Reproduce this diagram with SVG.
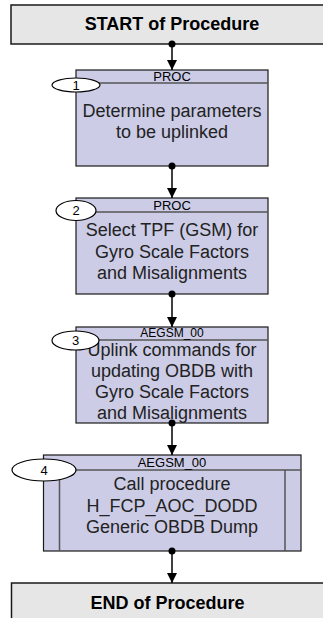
<svg xmlns="http://www.w3.org/2000/svg" width="323" height="618" viewBox="0 0 323 618">
<defs>
<style>
.term{fill:#e6e6e6;stroke:#1a1a1a;stroke-width:1.5}
.proc{fill:#ccccE6;stroke:#1a1a1a;stroke-width:1.2}
.div{stroke:#555;stroke-width:1.5;fill:none}
.oval{fill:#fff;stroke:#000;stroke-width:1.2}
.tt{font-family:"Liberation Sans",Arial,sans-serif;font-weight:bold;font-size:18px;fill:#000;text-anchor:middle}
.bt{font-family:"Liberation Sans",Arial,sans-serif;font-size:18px;fill:#222;text-anchor:middle}
.ht{font-family:"Liberation Sans",Arial,sans-serif;font-size:13px;fill:#000;text-anchor:middle}
.nt{font-family:"Liberation Sans",Arial,sans-serif;font-size:13px;fill:#000;text-anchor:middle}
.ln{stroke:#000;stroke-width:1.5;fill:none}
</style>
<marker id="ah" viewBox="0 0 10 10" refX="10" refY="5" markerWidth="10" markerHeight="10" markerUnits="userSpaceOnUse" orient="auto">
<path d="M0,0 L10,5 L0,10 z" fill="#000"/>
</marker>
</defs>
<g id="start">
<rect class="term" x="11" y="5" width="330" height="39"/>
<text class="tt" x="172" y="30">START of Procedure</text>
</g>
<g id="step1">
<rect class="proc" x="76" y="70" width="192" height="96"/>
<line class="div" x1="76" y1="83" x2="268" y2="83"/>
<text class="ht" x="172" y="81">PROC</text>
<text class="bt" x="172" y="117">Determine parameters</text>
<text class="bt" x="172" y="138">to be uplinked</text>
<ellipse class="oval" cx="76" cy="85" rx="24" ry="7"/>
<text class="nt" x="76" y="90">1</text>
</g>
<g id="step2">
<rect class="proc" x="76" y="198" width="192" height="96"/>
<line class="div" x1="76" y1="212" x2="268" y2="212"/>
<text class="ht" x="172" y="210">PROC</text>
<text class="bt" x="172" y="236">Select TPF (GSM) for</text>
<text class="bt" x="172" y="257.5">Gyro Scale Factors</text>
<text class="bt" x="172" y="279">and Misalignments</text>
<ellipse class="oval" cx="76" cy="210.5" rx="20" ry="10"/>
<text class="nt" x="76" y="215">2</text>
</g>
<g id="step3">
<rect class="proc" x="76" y="327" width="192" height="96"/>
<line class="div" x1="76" y1="340" x2="268" y2="340"/>
<text class="ht" x="172" y="336.5" style="font-size:12px">AEGSM_00</text>
<text class="bt" x="172" y="355.5">Uplink commands for</text>
<text class="bt" x="172" y="376.5">updating OBDB with</text>
<text class="bt" x="172" y="397.5">Gyro Scale Factors</text>
<text class="bt" x="172" y="418.5">and Misalignments</text>
<ellipse class="oval" cx="75.5" cy="340.5" rx="23.5" ry="9.5"/>
<text class="nt" x="75.5" y="345">3</text>
</g>
<g id="step4">
<rect class="proc" x="43.5" y="455" width="257.5" height="96"/>
<line class="div" x1="43.5" y1="470" x2="301" y2="470"/>
<line class="div" x1="59.5" y1="470" x2="59.5" y2="551"/>
<line class="div" x1="285" y1="470" x2="285" y2="551"/>
<text class="ht" x="172" y="467">AEGSM_00</text>
<text class="bt" x="172" y="490">Call procedure</text>
<text class="bt" x="172" y="511.5">H_FCP_AOC_DODD</text>
<text class="bt" x="172" y="533">Generic OBDB Dump</text>
<ellipse class="oval" cx="44" cy="470" rx="32" ry="11"/>
<text class="nt" x="44" y="475">4</text>
</g>
<g id="end">
<rect class="term" x="11.5" y="583" width="330" height="50"/>
<text class="tt" x="167.5" y="609">END of Procedure</text>
</g>
<g id="connectors">
<circle cx="172" cy="44" r="3.5"/>
<line class="ln" x1="172" y1="44" x2="172" y2="70" marker-end="url(#ah)"/>
<circle cx="172" cy="166" r="3.5"/>
<line class="ln" x1="172" y1="166" x2="172" y2="198" marker-end="url(#ah)"/>
<circle cx="172" cy="294" r="3.5"/>
<line class="ln" x1="172" y1="294" x2="172" y2="327" marker-end="url(#ah)"/>
<circle cx="172" cy="423" r="3.5"/>
<line class="ln" x1="172" y1="423" x2="172" y2="455" marker-end="url(#ah)"/>
<circle cx="172" cy="551" r="3.5"/>
<line class="ln" x1="172" y1="551" x2="172" y2="583" marker-end="url(#ah)"/>
</g>
</svg>
